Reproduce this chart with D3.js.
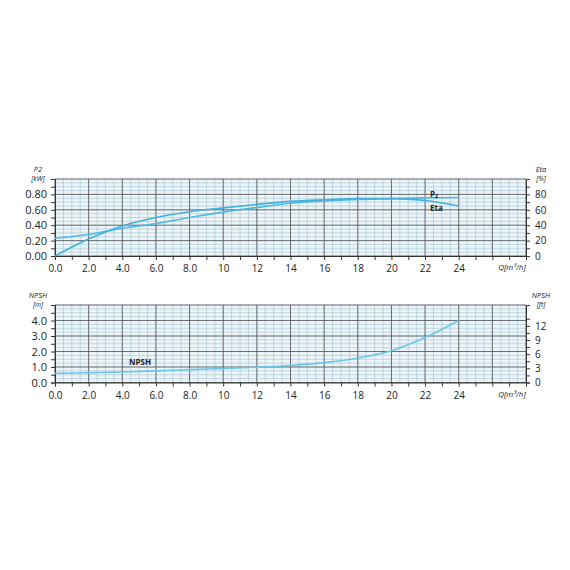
<!DOCTYPE html>
<html>
<head>
<meta charset="utf-8">
<script src="https://cdn.jsdelivr.net/npm/d3@7"></script>
<style>
  body { margin: 0; background: #fff; }
  svg text { font-family: "Open Sans", sans-serif; fill: #222; }
</style>
</head>
<body>
<div id="chart"></div>
<script>
// flow rate Q [m3/h]
const flow = [0, 2, 4, 6, 8, 10, 12, 14, 16, 18, 20, 22, 24];
// shaft power P2 [kW]
const power = [0.23, 0.28, 0.36, 0.42, 0.50, 0.57, 0.63, 0.685, 0.715, 0.735, 0.745, 0.755, 0.76];
// efficiency [%]
const eta = [0, 22, 39, 50, 57.5, 62.5, 67, 71, 73, 74.5, 74.5, 72, 65];
// NPSH [m]
const npsh = [0.6, 0.63, 0.68, 0.75, 0.83, 0.9, 0.99, 1.1, 1.28, 1.58, 2.05, 2.9, 4.0];

const qTicks = [0, 2, 4, 6, 8, 10, 12, 14, 16, 18, 20, 22, 24];
const p2Ticks = [0, 0.2, 0.4, 0.6, 0.8];
const etaTicks = [0, 20, 40, 60, 80];
const npshTicks = [0, 1, 2, 3, 4];
const ftTicks = [0, 3, 6, 9, 12];

const width = 570, height = 570;
const svg = d3.select("#chart").append("svg")
  .attr("width", width)
  .attr("height", height);

const x = d3.scaleLinear().domain([0, 28]).range([55, 526]);
const curveColor = "#4fb9e3";

function panel(cfg) {
  const g = svg.append("g");
  const y = cfg.y;
  const y0 = y.range()[0], y1 = y.range()[1];

  g.append("rect")
    .attr("x", x(0)).attr("y", y1)
    .attr("width", x(28) - x(0)).attr("height", y0 - y1)
    .attr("fill", "#eef5f8");

  // minor grid
  g.selectAll(".vmin").data(d3.range(0, 28.01, 0.5)).enter().append("line")
    .attr("x1", d => x(d)).attr("x2", d => x(d))
    .attr("y1", y0).attr("y2", y1)
    .attr("stroke", "#aac8d6").attr("stroke-width", 0.7);
  g.selectAll(".hmin").data(d3.range(0, cfg.max + 1e-9, cfg.minorStep)).enter().append("line")
    .attr("x1", x(0)).attr("x2", x(28))
    .attr("y1", d => y(d)).attr("y2", d => y(d))
    .attr("stroke", "#aac8d6").attr("stroke-width", 0.7);

  // major grid
  g.selectAll(".vmaj").data(d3.range(0, 28.01, 2)).enter().append("line")
    .attr("x1", d => x(d)).attr("x2", d => x(d))
    .attr("y1", y0).attr("y2", y1)
    .attr("stroke", "#555").attr("stroke-width", 0.8);
  g.selectAll(".hmaj").data(d3.range(0, cfg.max + 1e-9, cfg.majorStep)).enter().append("line")
    .attr("x1", x(0)).attr("x2", x(28))
    .attr("y1", d => y(d)).attr("y2", d => y(d))
    .attr("stroke", "#555").attr("stroke-width", 0.8);

  // bottom axis
  const xa = g.append("g").attr("transform", "translate(0," + y0 + ")")
    .call(d3.axisBottom(x).tickValues(d3.range(0, 29, 1)).tickSize(4)
      .tickFormat(d => qTicks.includes(d) ? (d < 10 ? d.toFixed(1) : d) : ""));
  xa.selectAll("text").attr("font-size", 10).attr("dy", "0.9em");
  xa.select(".domain").attr("stroke", "#333");
  xa.selectAll(".tick line").attr("stroke", "#333");
  g.append("text").attr("x", 512).attr("y", y0 + 14)
    .attr("text-anchor", "middle").attr("font-size", 8).attr("font-style", "italic")
    .text("Q[m³/h]");

  // left axis
  const la = g.append("g").attr("transform", "translate(" + x(0) + ",0)")
    .call(d3.axisLeft(y).tickValues(d3.range(0, cfg.max, cfg.majorStep / 2)).tickSize(4)
      .tickFormat(d => cfg.leftTicks.some(t => Math.abs(t - d) < 1e-9) ? cfg.leftFmt(d) : ""));
  la.selectAll("text").attr("font-size", 11).attr("x", -8);
  la.select(".domain").attr("stroke", "#333");
  la.selectAll(".tick line").attr("stroke", "#333");

  // right axis
  const ra = g.append("g").attr("transform", "translate(" + x(28) + ",0)")
    .call(d3.axisRight(cfg.yr).tickValues(cfg.rightMinor).tickSize(4)
      .tickFormat(d => cfg.rightTicks.includes(d) ? d : ""));
  ra.selectAll("text").attr("font-size", 10).attr("x", 9);
  ra.select(".domain").attr("stroke", "#333");
  ra.selectAll(".tick line").attr("stroke", "#333");

  // axis titles
  g.append("text").attr("x", 38).attr("y", y1 - 7).attr("text-anchor", "middle")
    .attr("font-size", 7.5).attr("font-style", "italic").text(cfg.leftTitle[0]);
  g.append("text").attr("x", 38).attr("y", y1 + 2).attr("text-anchor", "middle")
    .attr("font-size", 7).attr("font-style", "italic").text(cfg.leftTitle[1]);
  g.append("text").attr("x", 541).attr("y", y1 - 7).attr("text-anchor", "middle")
    .attr("font-size", 7.5).attr("font-style", "italic").text(cfg.rightTitle[0]);
  g.append("text").attr("x", 541).attr("y", y1 + 2).attr("text-anchor", "middle")
    .attr("font-size", 7).attr("font-style", "italic").text(cfg.rightTitle[1]);
  return g;
}

// upper panel: P2 and Eta
const yP = d3.scaleLinear().domain([0, 1]).range([256, 179]);
const yE = d3.scaleLinear().domain([0, 100]).range([256, 179]);
const upper = panel({
  y: yP, yr: yE, max: 1, majorStep: 0.2, minorStep: 0.05,
  leftTicks: p2Ticks, leftFmt: d => d.toFixed(2),
  rightTicks: etaTicks, rightMinor: d3.range(0, 100, 10),
  leftTitle: ["P2", "[kW]"], rightTitle: ["Eta", "[%]"]
});

const lineP = d3.line().x((d, i) => x(flow[i])).y(d => yP(d)).curve(d3.curveCatmullRom);
const lineE = d3.line().x((d, i) => x(flow[i])).y(d => yE(d)).curve(d3.curveCatmullRom);
upper.append("path").attr("d", lineP(power)).attr("fill", "none")
  .attr("stroke", curveColor).attr("stroke-width", 1.6);
upper.append("path").attr("d", lineE(eta)).attr("fill", "none")
  .attr("stroke", "#3fb0dd").attr("stroke-width", 1.6);
upper.append("text").attr("x", 430).attr("y", yP(0.77)).attr("font-size", 8)
  .attr("font-weight", "bold").text("P₂");
upper.append("text").attr("x", 430).attr("y", yE(59)).attr("font-size", 8)
  .attr("font-weight", "bold").text("Eta");

// lower panel: NPSH
const yN = d3.scaleLinear().domain([0, 5]).range([382.5, 305]);
const yF = d3.scaleLinear().domain([0, 5 / 0.3048]).range([382.5, 305]);
const lower = panel({
  y: yN, yr: yF, max: 5, majorStep: 1, minorStep: 0.25,
  leftTicks: npshTicks, leftFmt: d => d.toFixed(1),
  rightTicks: ftTicks, rightMinor: d3.range(0, 15, 1.5),
  leftTitle: ["NPSH", "[m]"], rightTitle: ["NPSH", "[ft]"]
});

const lineN = d3.line().x((d, i) => x(flow[i])).y(d => yN(d)).curve(d3.curveCatmullRom);
lower.append("path").attr("d", lineN(npsh)).attr("fill", "none")
  .attr("stroke", "#6cc6ea").attr("stroke-width", 1.6);
lower.append("text").attr("x", 140).attr("y", yN(1.1)).attr("font-size", 8)
  .attr("font-weight", "bold").attr("text-anchor", "middle").text("NPSH");
</script>
</body>
</html>
